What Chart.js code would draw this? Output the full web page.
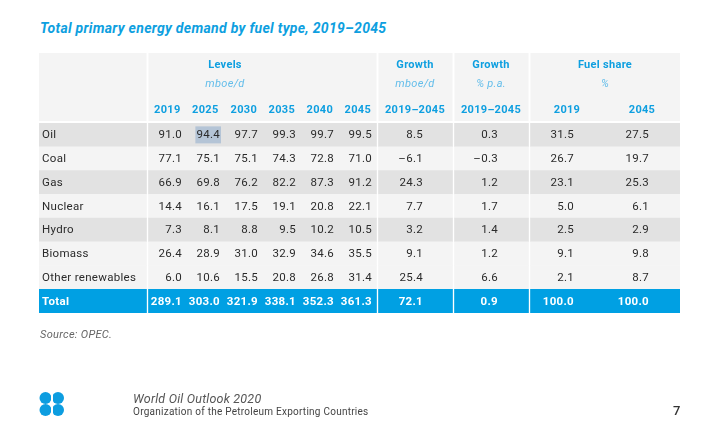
<!DOCTYPE html>
<html>
<head>
<meta charset="utf-8">
<script src="https://cdn.jsdelivr.net/npm/chart.js@4.4.1/dist/chart.umd.min.js"></script>
<style>
  html, body { margin: 0; padding: 0; background: #fff; }
  body { width: 723px; height: 448px; position: relative; overflow: hidden; font-family: Roboto, "DejaVu Sans", sans-serif; }
  #wrap { position: absolute; left: 0; top: 0; width: 723px; height: 448px; }
  .title { position: absolute; left: 40px; top: 20px; font: italic bold 14px Roboto; color: #0e9fe0; white-space: nowrap; letter-spacing: 0.3px; }
  .source { position: absolute; left: 40px; top: 328px; font: italic 11px Roboto; color: #666; letter-spacing: 0.3px; }
  .wo { position: absolute; left: 133px; top: 391px; font: italic 12.5px Roboto; color: #555; letter-spacing: 0.2px; }
  .org { position: absolute; left: 133px; top: 406px; font: 10px Roboto; color: #444; letter-spacing: 0.25px; }
  .page { position: absolute; left: 673px; top: 403px; font: 500 13px Roboto; color: #333; }
  .logo { position: absolute; left: 39px; top: 392px; }
</style>
</head>
<body>
<div class="title">Total primary energy demand by fuel type, 2019–2045</div>
<div id="wrap"><canvas id="tableChart"></canvas></div>
<div class="source">Source: OPEC.</div>
<svg class="logo" width="26" height="24" viewBox="0 0 26 24">
  <circle cx="6.5" cy="6" r="6" fill="#0d9de0"/>
  <circle cx="19" cy="6" r="6" fill="#0d9de0"/>
  <circle cx="6.5" cy="18" r="6" fill="#0d9de0"/>
  <circle cx="19" cy="18" r="6" fill="#0d9de0"/>
  <rect x="12" y="3" width="2" height="6" fill="#fff"/>
  <rect x="10" y="11" width="6" height="2" fill="#fff"/>
  <rect x="12" y="15" width="2" height="6" fill="#fff"/>
</svg>
<div class="wo">World Oil Outlook 2020</div>
<div class="org">Organization of the Petroleum Exporting Countries</div>
<div class="page">7</div>

<script>
// rows
const fuels = ["Oil", "Coal", "Gas", "Nuclear", "Hydro", "Biomass", "Other renewables", "Total"];

// levels, mboe/d
const levelYears = ["2019", "2025", "2030", "2035", "2040", "2045"];
const level2019 = [91.0, 77.1, 66.9, 14.4, 7.3, 26.4, 6.0, 289.1];
const level2025 = [94.4, 75.1, 69.8, 16.1, 8.1, 28.9, 10.6, 303.0];
const level2030 = [97.7, 75.1, 76.2, 17.5, 8.8, 31.0, 15.5, 321.9];
const level2035 = [99.3, 74.3, 82.2, 19.1, 9.5, 32.9, 20.8, 338.1];
const level2040 = [99.7, 72.8, 87.3, 20.8, 10.2, 34.6, 26.8, 352.3];
const level2045 = [99.5, 71.0, 91.2, 22.1, 10.5, 35.5, 31.4, 361.3];

// growth 2019-2045
const growthMboe = [8.5, -6.1, 24.3, 7.7, 3.2, 9.1, 25.4, 72.1];
const growthPct = [0.3, -0.3, 1.2, 1.7, 1.4, 1.2, 6.6, 0.9];

// fuel share %
const shareYears = ["2019", "2045"];
const share2019 = [31.5, 26.7, 23.1, 5.0, 2.5, 9.1, 2.1, 100.0];
const share2045 = [27.5, 19.7, 25.3, 6.1, 2.9, 9.8, 8.7, 100.0];

// header texts
const groupTitles = ["Levels", "Growth", "Growth", "Fuel share"];
const groupUnits = ["mboe/d", "mboe/d", "% p.a.", "%"];
const periodLabel = "2019–2045";

// --- layout (page pixels, x scale maps 1:1) ---
const TABLE_LEFT = 39, TABLE_RIGHT = 680;
const HEAD_TOP = 53, HEAD_BOTTOM = 121;
const blocks = [[39, 146.5], [148.5, 376.5], [378.5, 452.5], [454.5, 528.5], [530.5, 680]];
const levelRight = [182, 220, 258, 296, 334, 372];
const levelHeadRight = [180.5, 218.5, 257, 295, 333, 371];
const growthRight = [423, 498];
const shareRight = [574, 649];
const groupCenter = [225, 415, 491, 605];
const shareHeadCenter = [567, 642];

const BLUE = "#0e9fe0";
const LIGHT_BLUE = "#63bdea";
const DARK_ROW = "#e2e2e2";
const LIGHT_ROW = "#f4f4f4";
const TOTAL_BG = "#00a0e3";
const TEXT = "#2b2b2b";

const rowColor = fuels.map((f, i) => {
    if (f === "Total") return TOTAL_BG;
    if (i === 6) return LIGHT_ROW;
    return i % 2 === 0 ? DARK_ROW : LIGHT_ROW;
});

const fmt = v => (v < 0 ? "–" + Math.abs(v).toFixed(1) : v.toFixed(1));

const tablePlugin = {
    id: "tableText",
    beforeDatasetsDraw(chart) {
        const ctx = chart.ctx;
        const x = chart.scales.x;
        ctx.save();
        ctx.fillStyle = LIGHT_ROW;
        blocks.forEach(b => {
            const x0 = x.getPixelForValue(b[0]);
            const x1 = x.getPixelForValue(b[1]);
            ctx.fillRect(x0, HEAD_TOP, x1 - x0, HEAD_BOTTOM - HEAD_TOP);
        });
        ctx.restore();
    },
    afterDatasetsDraw(chart) {
        const ctx = chart.ctx;
        const x = chart.scales.x;
        const y = chart.scales.y;
        ctx.save();
        ctx.textBaseline = "middle";
        ctx.letterSpacing = "0.3px";

        // header
        ctx.fillStyle = BLUE;
        ctx.font = "bold 11px Roboto";
        ctx.textAlign = "center";
        groupTitles.forEach((t, i) => ctx.fillText(t, x.getPixelForValue(groupCenter[i]), 65));
        ctx.fillStyle = LIGHT_BLUE;
        ctx.font = "italic 11px Roboto";
        groupUnits.forEach((t, i) => ctx.fillText(t, x.getPixelForValue(groupCenter[i]), 84));
        ctx.fillStyle = BLUE;
        ctx.font = "bold 11px Roboto";
        ctx.textAlign = "right";
        levelYears.forEach((t, i) => ctx.fillText(t, x.getPixelForValue(levelHeadRight[i]), 110));
        ctx.textAlign = "center";
        ctx.fillText(periodLabel, x.getPixelForValue(groupCenter[1]), 110);
        ctx.fillText(periodLabel, x.getPixelForValue(groupCenter[2]), 110);
        shareYears.forEach((t, i) => ctx.fillText(t, x.getPixelForValue(shareHeadCenter[i]), 110));

        // body
        const levelCols = [level2019, level2025, level2030, level2035, level2040, level2045];
        const otherCols = [
            [growthMboe, growthRight[0]],
            [growthPct, growthRight[1]],
            [share2019, shareRight[0]],
            [share2045, shareRight[1]]
        ];
        fuels.forEach((f, r) => {
            const py = y.getPixelForValue(r) + 0.5;
            const isTotal = f === "Total";
            ctx.font = (isTotal ? "bold " : "") + "11.5px Roboto";
            ctx.fillStyle = isTotal ? "#ffffff" : TEXT;

            // selection highlight seen in the source page (Oil, 2025)
            if (r === 0) {
                const w = ctx.measureText(fmt(levelCols[1][0])).width;
                ctx.fillStyle = "#b4c4d6";
                ctx.fillRect(x.getPixelForValue(levelRight[1]) - w - 1, py - 9, w + 2, 17);
                ctx.fillStyle = TEXT;
            }

            ctx.textAlign = "left";
            ctx.fillText(f, x.getPixelForValue(42), py);
            ctx.textAlign = "right";
            levelCols.forEach((col, c) => ctx.fillText(fmt(col[r]), x.getPixelForValue(levelRight[c]), py));
            otherCols.forEach(([col, right]) => ctx.fillText(fmt(col[r]), x.getPixelForValue(right), py));
        });
        ctx.restore();
    }
};

// one floating bar per table block and row = cell backgrounds
const datasets = blocks.map(b => ({
    data: fuels.map(() => [b[0], b[1]]),
    backgroundColor: rowColor,
    borderWidth: 0,
    grouped: false,
    barPercentage: 1,
    categoryPercentage: 1
}));

new Chart(document.getElementById("tableChart"), {
    type: "bar",
    data: { labels: fuels, datasets: datasets },
    options: {
        indexAxis: "y",
        responsive: true,
        maintainAspectRatio: false,
        animation: false,
        events: [],
        layout: { padding: { left: TABLE_LEFT, right: 723 - TABLE_RIGHT, top: 123, bottom: 448 - 313 } },
        plugins: { legend: { display: false }, tooltip: { enabled: false }, title: { display: false } },
        scales: {
            x: { type: "linear", min: TABLE_LEFT, max: TABLE_RIGHT, display: false },
            y: { type: "category", display: false, offset: true }
        }
    },
    plugins: [tablePlugin]
});
</script>
</body>
</html>
